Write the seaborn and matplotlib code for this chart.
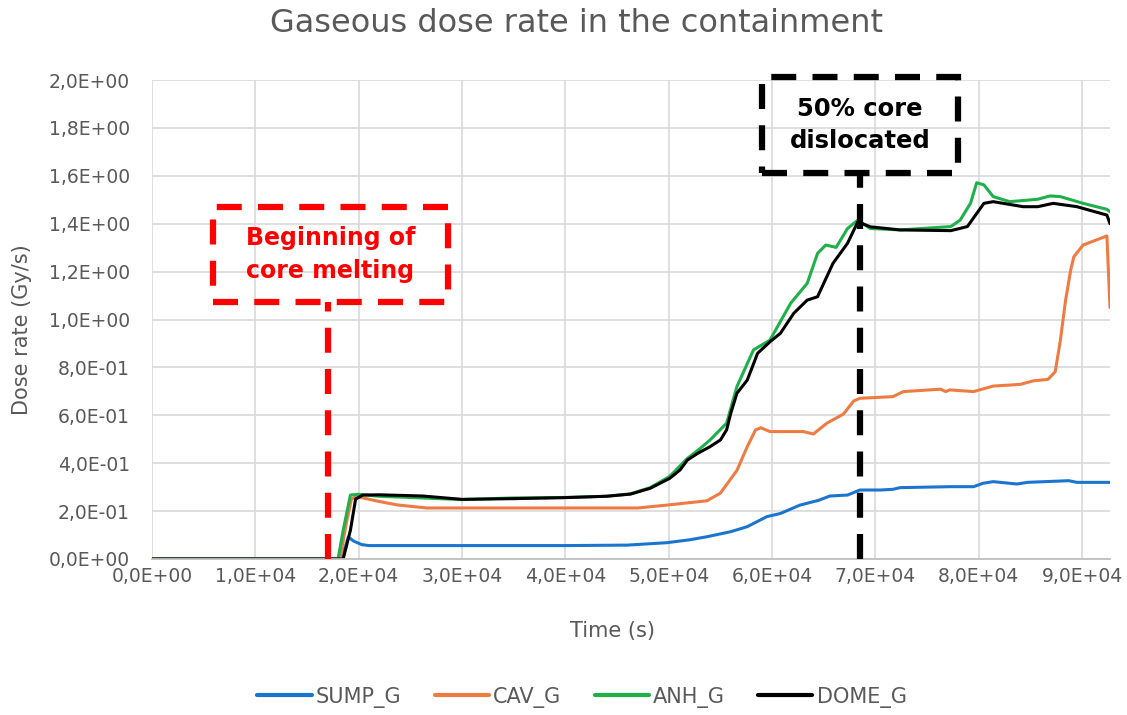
import numpy as np
import pandas as pd
import matplotlib
matplotlib.use("Agg")
import matplotlib.pyplot as plt
from matplotlib.patches import Rectangle
from matplotlib.ticker import FuncFormatter
import seaborn as sns

# ---------------- data ----------------
sump_t = [0, 18200, 18700, 19000, 19500, 20300, 21000, 30000, 40000, 46000, 49800,
          52000, 53700, 56000, 57600, 59500, 60800, 62700, 64500, 65600, 67300, 68500,
          70500, 71700, 72400, 77300, 79500, 80400, 81400, 83700, 84700, 88700, 89500, 92700]
sump_v = [0, 0, 0.05, 0.092, 0.075, 0.06, 0.056, 0.056, 0.056, 0.058, 0.068,
          0.08, 0.093, 0.114, 0.135, 0.177, 0.19, 0.225, 0.245, 0.263, 0.267, 0.288,
          0.288, 0.291, 0.298, 0.302, 0.302, 0.316, 0.323, 0.313, 0.32, 0.327, 0.32, 0.32]

cav_t = [0, 18200, 18800, 19300, 19700, 20400, 22000, 23700, 26600, 30000, 40000, 47000,
         49800, 53700, 55000, 56600, 57600, 58400, 58900, 59800, 61000, 63000, 64000,
         65300, 66900, 67900, 68500, 71700, 72700, 76300, 76800, 77200, 79500, 81400,
         84000, 85300, 86700, 87400, 87900, 88400, 88900, 89200, 90100, 92400, 92700]
cav_v = [0, 0, 0.15, 0.25, 0.26, 0.255, 0.24, 0.226, 0.213, 0.213, 0.213, 0.213,
         0.225, 0.243, 0.275, 0.37, 0.469, 0.539, 0.548, 0.532, 0.532, 0.532, 0.522,
         0.567, 0.605, 0.66, 0.671, 0.678, 0.699, 0.709, 0.699, 0.706, 0.699, 0.722,
         0.729, 0.744, 0.75, 0.782, 0.914, 1.08, 1.207, 1.262, 1.311, 1.349, 1.05]

anh_t = [0, 18000, 18500, 19200, 20000, 22000, 26000, 30000, 35000, 40000, 44000, 46300,
         48200, 50100, 51800, 53000, 54000, 55600, 56600, 58200, 59800, 61800, 63400,
         64400, 65200, 66200, 67300, 68300, 69500, 72400, 77300, 78200, 79200, 79800,
         80500, 81400, 83000, 85700, 86900, 87900, 90100, 92400, 92700]
anh_v = [0, 0, 0.12, 0.267, 0.27, 0.262, 0.255, 0.248, 0.255, 0.257, 0.262, 0.272,
         0.298, 0.345, 0.42, 0.46, 0.497, 0.567, 0.72, 0.873, 0.914, 1.068, 1.151,
         1.276, 1.311, 1.301, 1.38, 1.415, 1.38, 1.374, 1.388, 1.415, 1.485, 1.571,
         1.562, 1.513, 1.492, 1.502, 1.516, 1.513, 1.485, 1.46, 1.45]

dome_t = [0, 18500, 19200, 19700, 20400, 22000, 26200, 30000, 35000, 39800, 44000, 46300,
          48200, 50100, 51100, 51800, 52800, 54000, 55000, 55600, 56000, 56600, 57600,
          58600, 59800, 60800, 62100, 63400, 64400, 65000, 65900, 67300, 68300, 69500,
          72400, 77300, 78900, 80500, 81400, 84300, 85700, 87200, 89500, 92400, 92700]
dome_v = [0, 0, 0.12, 0.25, 0.267, 0.268, 0.263, 0.249, 0.252, 0.256, 0.262, 0.271,
          0.295, 0.337, 0.372, 0.413, 0.441, 0.469, 0.497, 0.539, 0.608, 0.692, 0.747,
          0.859, 0.907, 0.942, 1.026, 1.081, 1.095, 1.151, 1.235, 1.318, 1.408, 1.387,
          1.374, 1.371, 1.388, 1.485, 1.492, 1.471, 1.471, 1.485, 1.471, 1.436, 1.40]

series_names = ["SUMP_G", "CAV_G", "ANH_G", "DOME_G"]
series_colors = ["#1B75CF", "#EE7B42", "#1FB04C", "#000000"]

melt_start_t = 17000
dislocation_t = 68500
x_ticks = [0, 10000, 20000, 30000, 40000, 50000, 60000, 70000, 80000, 90000]
y_ticks = [0.0, 0.2, 0.4, 0.6, 0.8, 1.0, 1.2, 1.4, 1.6, 1.8, 2.0]

df = pd.concat([
    pd.DataFrame({"time": t, "rate": v, "series": n})
    for t, v, n in [(sump_t, sump_v, "SUMP_G"), (cav_t, cav_v, "CAV_G"),
                    (anh_t, anh_v, "ANH_G"), (dome_t, dome_v, "DOME_G")]
], ignore_index=True)

# ---------------- style ----------------
sns.set_style("white")
plt.rcParams["font.family"] = ["DejaVu Sans"]
gray = "#595959"

fig = plt.figure(figsize=(11.27, 7.15), dpi=100)
ax = fig.add_axes([152 / 1127, 1 - 559 / 715, (1110 - 152) / 1127, (559 - 80) / 715])

sns.lineplot(data=df, x="time", y="rate", hue="series", hue_order=series_names,
             palette=dict(zip(series_names, series_colors)), sort=False,
             estimator=None, linewidth=2.2, ax=ax, legend=False)

ax.set_xlim(0, 92700)
ax.set_ylim(0, 2.0)
ax.set_xticks(x_ticks)
ax.set_yticks(y_ticks)
fmt = FuncFormatter(lambda v, p: f"{v:.1E}".replace(".", ","))
ax.xaxis.set_major_formatter(fmt)
ax.yaxis.set_major_formatter(fmt)
ax.tick_params(axis="both", length=0, labelsize=13.5, labelcolor=gray)
ax.tick_params(axis="x", pad=6)
ax.tick_params(axis="y", pad=16)
ax.grid(True, color="#d9d9d9", linewidth=1.2)
ax.set_axisbelow(True)
for s in ["top", "right", "left"]:
    ax.spines[s].set_visible(False)
ax.spines["bottom"].set_color("#bfbfbf")
ax.spines["bottom"].set_linewidth(1.3)

ax.set_xlabel("Time (s)", fontsize=15, color=gray)
ax.set_ylabel("Dose rate (Gy/s)", fontsize=15, color=gray)
ax.xaxis.set_label_coords((612 - 152) / 958, -(621 - 559) / 479)
ax.yaxis.set_label_coords((32 - 152) / 958, 0.478)

fig.text(577 / 1127, 1 - 23 / 715, "Gaseous dose rate in the containment",
         ha="center", va="center", fontsize=23, color=gray)

# ---------------- annotations ----------------
dash = (0, (4, 2.6))
# red: beginning of core melting
ax.add_patch(Rectangle((5900, 1.073), 22700, 0.397, fill=False, edgecolor="#FF0000",
                       linewidth=4.5, linestyle=dash, clip_on=False, zorder=5))
ax.vlines(melt_start_t, 0, 1.073, colors="#FF0000", linewidth=4.5, linestyles=dash, zorder=5)
ax.text(17250, 1.272, "Beginning of\ncore melting", ha="center", va="center",
        fontsize=17, fontweight="bold", color="#FF0000", linespacing=1.45, zorder=6)
# black: 50% core dislocated
ax.add_patch(Rectangle((59050, 1.612), 18950, 0.40, fill=False, edgecolor="#000000",
                       linewidth=4.5, linestyle=dash, clip_on=False, zorder=5))
ax.vlines(dislocation_t, 0, 1.612, colors="#000000", linewidth=4.5, linestyles=dash, zorder=5)
ax.text(68500, 1.812, "50% core\ndislocated", ha="center", va="center",
        fontsize=17.5, fontweight="bold", color="#000000", linespacing=1.45, zorder=6)

# ---------------- legend ----------------
handles = [plt.Line2D([], [], color=c, linewidth=3) for c in series_colors]
leg = fig.legend(handles, series_names, loc="center", bbox_to_anchor=(582 / 1127, 1 - 697 / 715),
                 ncol=4, frameon=False, fontsize=15, handlelength=2.6, handletextpad=0.2,
                 columnspacing=1.6, labelcolor=gray)

fig.savefig("out.png", dpi=100)
